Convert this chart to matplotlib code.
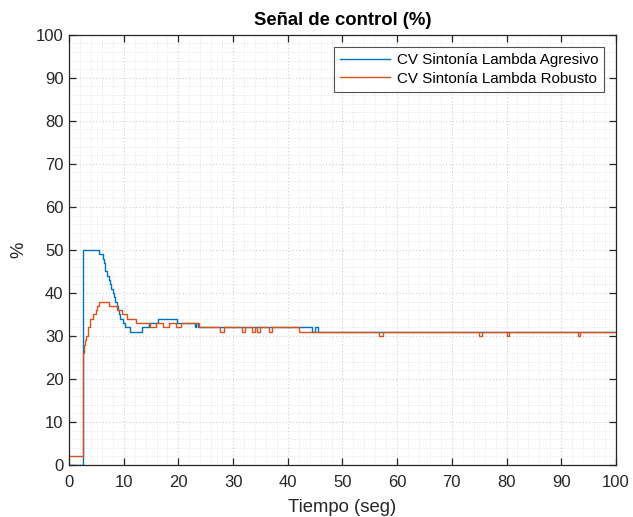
import matplotlib
matplotlib.use("Agg")
import matplotlib.pyplot as plt
from matplotlib.ticker import MultipleLocator

plt.rcParams['font.family'] = ['Liberation Sans', 'DejaVu Sans']

# Controller output (%) versus time (s), stored as step breakpoints
t_agresivo = [0, 2.55, 5.5, 6.2, 6.4, 6.5, 6.6, 6.9, 7.3, 7.5, 7.7, 8.0, 8.2, 8.5,
              8.7, 8.9, 9.1, 9.4, 9.9, 10.3, 11.1, 13.3, 14.7, 16.3, 19.8, 23.0,
              23.3, 23.6, 44.4, 45.0, 45.5, 100]
cv_agresivo = [0, 50, 49, 48, 47, 46, 45, 44, 43, 42, 41, 40, 39, 38,
               37, 36, 35, 34, 33, 32, 31, 32, 33, 34, 33, 32,
               33, 32, 31, 32, 31, 31]

t_robusto = [0, 2.55, 2.7, 3.0, 3.2, 3.5, 3.9, 4.4, 4.9, 5.2, 5.5, 7.4, 8.7, 9.6,
             10.6, 12.3, 14.8, 15.9, 17.2, 18.2, 19.5, 20.5, 23.7, 27.6, 28.3,
             31.6, 32.1, 33.5, 34.0, 34.4, 34.9, 36.6, 37.2, 42.0, 56.7, 57.5,
             75.0, 75.5, 80.1, 80.4, 93.1, 93.5, 100]
cv_robusto = [2, 26, 28, 29, 30, 32, 34, 35, 36, 37, 38, 37, 36, 35,
              34, 33, 32, 33, 32, 33, 32, 33, 32, 31, 32,
              31, 32, 31, 32, 31, 32, 31, 32, 31, 30, 31,
              30, 31, 30, 31, 30, 31, 31]

series_labels = ['CV Sintonía Lambda Agresivo', 'CV Sintonía Lambda Robusto']
x_ticks = list(range(0, 101, 10))
y_ticks = list(range(0, 101, 10))

dark = '#262626'
fig = plt.figure(figsize=(6.33, 5.17), dpi=100)
ax = fig.add_axes([0.109, 0.1006, 0.864, 0.832])

ax.plot(t_agresivo, cv_agresivo, drawstyle='steps-post', color='#0072BD',
        lw=1.0, label=series_labels[0])
ax.plot(t_robusto, cv_robusto, drawstyle='steps-post', color='#D95319',
        lw=1.0, label=series_labels[1])

ax.set_xlim(0, 100)
ax.set_ylim(0, 100)
ax.set_xticks(x_ticks)
ax.set_yticks(y_ticks)
ax.xaxis.set_minor_locator(MultipleLocator(2))
ax.yaxis.set_minor_locator(MultipleLocator(2))

ax.grid(which='major', color='#d0d0d0', linestyle=(0, (1, 2)), lw=0.8)
ax.grid(which='minor', color='#dcdcdc', linestyle=(0, (1, 2)), lw=0.6)
ax.set_axisbelow(True)

ax.tick_params(which='major', direction='in', length=5, width=0.9,
               top=True, right=True, colors=dark, labelsize=12)
ax.tick_params(axis='x', which='major', pad=7)
ax.tick_params(axis='y', which='major', pad=4)
ax.tick_params(which='minor', length=0, top=True, right=True)
for s in ax.spines.values():
    s.set_color(dark)
    s.set_linewidth(0.9)

ax.set_title('Señal de control (%)', fontsize=13.3, fontweight='bold',
             color='black', pad=7)
ax.set_xlabel('Tiempo (seg)', fontsize=13.3, color=dark, labelpad=7)
ax.set_ylabel('%', fontsize=13.3, color=dark, labelpad=6)

leg = ax.legend(loc='upper right', bbox_to_anchor=(0.979, 0.971),
                fontsize=10.9, frameon=True, fancybox=False, handlelength=3.3,
                borderpad=0.4, labelspacing=0.28, handletextpad=0.45,
                borderaxespad=0)
leg.get_frame().set_edgecolor(dark)
leg.get_frame().set_linewidth(0.8)
for txt in leg.get_texts():
    txt.set_color('black')

fig.savefig('out.png', dpi=100)
